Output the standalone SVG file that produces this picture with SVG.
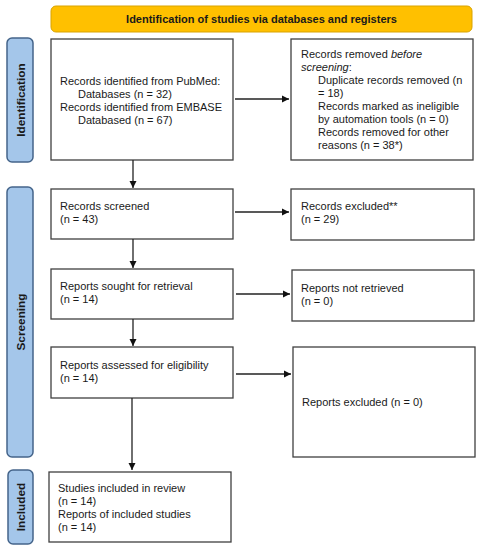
<svg xmlns="http://www.w3.org/2000/svg" width="481" height="550" viewBox="0 0 481 550">
<defs>
<marker id="ah" markerWidth="8" markerHeight="8" refX="7" refY="4" orient="auto" markerUnits="userSpaceOnUse">
<path d="M0,0.5 L7,4 L0,7.5 Z" fill="#111"/>
</marker>
<style>
.box{fill:#fff;stroke:#404040;stroke-width:1.3}
.side{fill:#A4C6EA;stroke:#44648A;stroke-width:1.5}
.hdr{fill:#FFC000;stroke:#D9A300;stroke-width:1}
.t{font-family:"Liberation Sans",Arial,sans-serif;font-size:11px;fill:#1a1a1a}
.b{font-family:"Liberation Sans",Arial,sans-serif;font-size:11px;font-weight:bold;fill:#1a1a1a}
.s{font-family:"Liberation Sans",Arial,sans-serif;font-size:11.8px;font-weight:bold;fill:#1a1a1a}
.c{stroke:#222;stroke-width:1.3;fill:none}
</style>
</defs>
<rect width="481" height="550" fill="#fff"/>
<g id="header">
<rect class="hdr" x="51" y="6" width="421" height="26" rx="5"/>
<text class="b" x="261.5" y="23" text-anchor="middle">Identification of studies via databases and registers</text>
</g>
<g id="side-identification">
<rect class="side" x="7" y="38" width="26" height="124" rx="5"/>
<text class="s" transform="translate(24.5,100) rotate(-90)" text-anchor="middle">Identification</text>
</g>
<g id="side-screening">
<rect class="side" x="7" y="187" width="26" height="270" rx="5"/>
<text class="s" transform="translate(24.5,322) rotate(-90)" text-anchor="middle">Screening</text>
</g>
<g id="side-included">
<rect class="side" x="8" y="470" width="25" height="74" rx="5"/>
<text class="s" transform="translate(24.5,507) rotate(-90)" text-anchor="middle">Included</text>
</g>
<g id="identified">
<rect class="box" x="51" y="39" width="182" height="121"/>
<text class="t" x="60" y="84.5">Records identified from PubMed:</text>
<text class="t" x="78" y="97.5">Databases (n = 32)</text>
<text class="t" x="60" y="110.5">Records identified from EMBASE</text>
<text class="t" x="78" y="123.5">Databased (n = 67)</text>
</g>
<g id="removed">
<rect class="box" x="291" y="39" width="182" height="121"/>
<text class="t" x="301" y="58">Records removed <tspan font-style="italic">before</tspan></text>
<text class="t" x="301" y="71" font-style="italic">screening<tspan font-style="normal">:</tspan></text>
<text class="t" x="318" y="84">Duplicate records removed (n</text>
<text class="t" x="318" y="97">= 18)</text>
<text class="t" x="318" y="110">Records marked as ineligible</text>
<text class="t" x="318" y="123">by automation tools (n = 0)</text>
<text class="t" x="318" y="136">Records removed for other</text>
<text class="t" x="318" y="149">reasons (n = 38*)</text>
</g>
<g id="screened">
<rect class="box" x="51" y="189" width="182" height="50"/>
<text class="t" x="60" y="210">Records screened</text>
<text class="t" x="60" y="223">(n = 43)</text>
</g>
<g id="excluded">
<rect class="box" x="291" y="189" width="183" height="51"/>
<text class="t" x="301" y="210">Records excluded**</text>
<text class="t" x="301" y="223">(n = 29)</text>
</g>
<g id="sought">
<rect class="box" x="51" y="269" width="182" height="50"/>
<text class="t" x="60" y="290">Reports sought for retrieval</text>
<text class="t" x="60" y="303">(n = 14)</text>
</g>
<g id="notretrieved">
<rect class="box" x="292" y="270" width="182" height="51"/>
<text class="t" x="301" y="292">Reports not retrieved</text>
<text class="t" x="301" y="305">(n = 0)</text>
</g>
<g id="assessed">
<rect class="box" x="51" y="347" width="182" height="51"/>
<text class="t" x="60" y="369">Reports assessed for eligibility</text>
<text class="t" x="60" y="382">(n = 14)</text>
</g>
<g id="reportsexcluded">
<rect class="box" x="293" y="347" width="182" height="110"/>
<text class="t" x="302" y="406">Reports excluded (n = 0)</text>
</g>
<g id="included">
<rect class="box" x="49" y="472" width="182" height="70"/>
<text class="t" x="58" y="492">Studies included in review</text>
<text class="t" x="58" y="505">(n = 14)</text>
<text class="t" x="58" y="518">Reports of included studies</text>
<text class="t" x="58" y="531">(n = 14)</text>
</g>
<g id="connectors">
<line class="c" x1="235" y1="99" x2="289" y2="99" marker-end="url(#ah)"/>
<line class="c" x1="133" y1="160" x2="133" y2="188" marker-end="url(#ah)"/>
<line class="c" x1="235" y1="212" x2="289" y2="212" marker-end="url(#ah)"/>
<line class="c" x1="133" y1="239" x2="133" y2="268" marker-end="url(#ah)"/>
<line class="c" x1="236" y1="294" x2="290" y2="294" marker-end="url(#ah)"/>
<line class="c" x1="133" y1="319" x2="133" y2="346" marker-end="url(#ah)"/>
<line class="c" x1="236" y1="374" x2="291" y2="374" marker-end="url(#ah)"/>
<line class="c" x1="132" y1="398" x2="132" y2="470" marker-end="url(#ah)"/>
</g>
</svg>
